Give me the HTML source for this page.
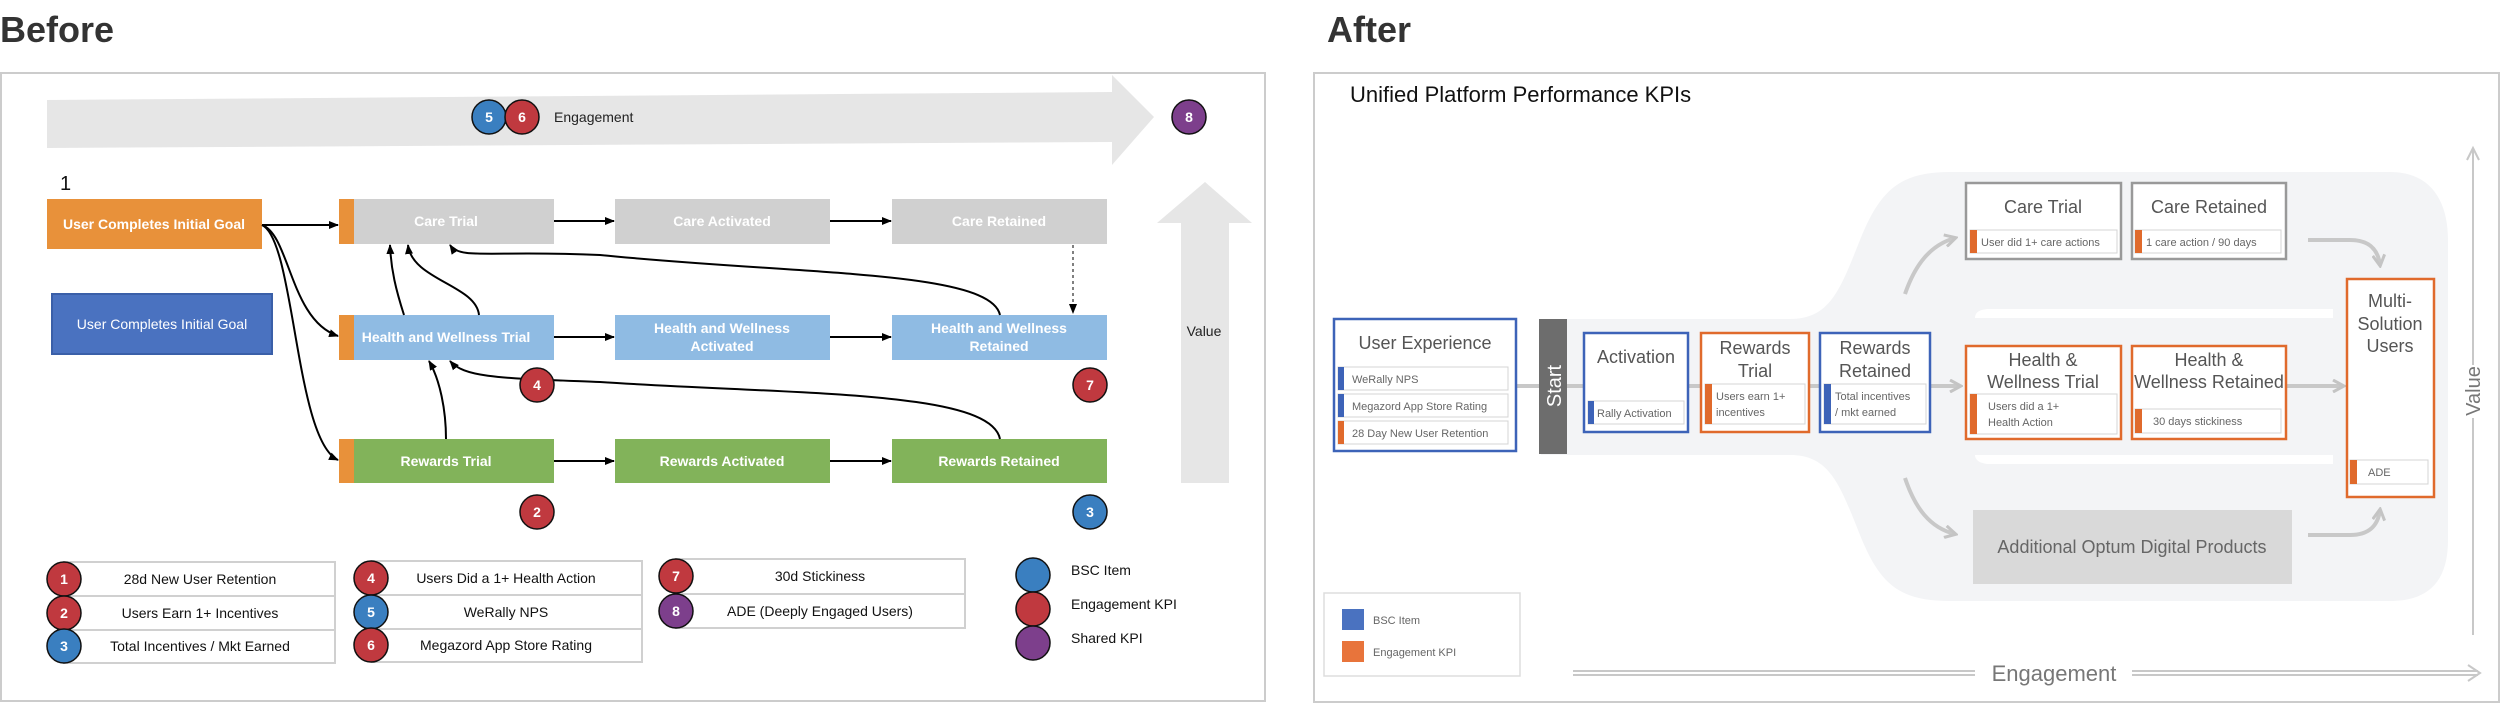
<!DOCTYPE html>
<html><head><meta charset="utf-8"><style>
html,body{margin:0;padding:0;background:#fff;}
svg{display:block;font-family:"Liberation Sans",sans-serif;}
</style></head><body>
<svg width="2500" height="703" viewBox="0 0 2500 703" xmlns="http://www.w3.org/2000/svg">
<defs>
<marker id="ab" markerWidth="10" markerHeight="10" refX="9" refY="5" orient="auto" markerUnits="userSpaceOnUse"><path d="M0,1 L10,5 L0,9 z" fill="#000"/></marker>
<marker id="ag" markerWidth="14" markerHeight="14" refX="11" refY="7" orient="auto" markerUnits="userSpaceOnUse"><path d="M1,1 L12,7 L1,13" fill="none" stroke="#c4c4c4" stroke-width="3"/></marker>
</defs>

<!-- ================= BEFORE ================= -->
<text x="0" y="42" font-size="36" font-weight="bold" fill="#333">Before</text>
<rect x="1" y="73" width="1264" height="628" fill="#fff" stroke="#ccc" stroke-width="2"/>

<!-- engagement arrow -->
<path d="M47,100 L1112,92 L1112,75 L1154,117 L1112,165 L1112,142 L47,148 z" fill="#e6e6e6"/>
<g stroke="#111" stroke-width="1.5" font-size="14" font-weight="bold" fill="#fff" text-anchor="middle">
<circle cx="489" cy="117" r="17" fill="#3a7fc0"/><text x="489" y="122" stroke="none">5</text>
<circle cx="522" cy="117" r="17" fill="#c0393f"/><text x="522" y="122" stroke="none">6</text>
<circle cx="1189" cy="117" r="17" fill="#7d3f8c"/><text x="1189" y="122" stroke="none">8</text>
</g>
<text x="554" y="122" font-size="14" fill="#222">Engagement</text>

<!-- value arrow -->
<path d="M1181,483 L1181,223 L1157,223 L1205,182 L1252,223 L1229,223 L1229,483 z" fill="#e6e6e6"/>
<text x="1204" y="336" font-size="14" fill="#222" text-anchor="middle">Value</text>

<text x="60" y="190" font-size="20" fill="#111">1</text>
<rect x="47" y="199" width="215" height="50" fill="#e8913a"/>
<text x="154" y="229" font-size="14" font-weight="bold" fill="#fff" text-anchor="middle">User Completes Initial Goal</text>
<rect x="52" y="294" width="220" height="60" fill="#4a72c0" stroke="#3a5fa8" stroke-width="2"/>
<text x="162" y="329" font-size="14" fill="#fff" text-anchor="middle">User Completes Initial Goal</text>

<!-- rows -->
<g font-size="14" font-weight="bold" fill="#fff" text-anchor="middle">
<rect x="339" y="199" width="215" height="45" fill="#d0d0d0"/><rect x="339" y="199" width="15" height="45" fill="#e8913a"/>
<text x="446" y="226">Care Trial</text>
<rect x="615" y="199" width="215" height="45" fill="#d0d0d0"/><text x="722" y="226">Care Activated</text>
<rect x="892" y="199" width="215" height="45" fill="#d0d0d0"/><text x="999" y="226">Care Retained</text>

<rect x="339" y="315" width="215" height="45" fill="#8fbbe3"/><rect x="339" y="315" width="15" height="45" fill="#e8913a"/>
<text x="446" y="342">Health and Wellness Trial</text>
<rect x="615" y="315" width="215" height="45" fill="#8fbbe3"/><text x="722" y="333">Health and Wellness</text><text x="722" y="351">Activated</text>
<rect x="892" y="315" width="215" height="45" fill="#8fbbe3"/><text x="999" y="333">Health and Wellness</text><text x="999" y="351">Retained</text>

<rect x="339" y="439" width="215" height="44" fill="#82b35a"/><rect x="339" y="439" width="15" height="44" fill="#e8913a"/>
<text x="446" y="466">Rewards Trial</text>
<rect x="615" y="439" width="215" height="44" fill="#82b35a"/><text x="722" y="466">Rewards Activated</text>
<rect x="892" y="439" width="215" height="44" fill="#82b35a"/><text x="999" y="466">Rewards Retained</text>
</g>

<g stroke="#000" stroke-width="2" fill="none" marker-end="url(#ab)">
<line x1="554" y1="221" x2="614" y2="221"/><line x1="830" y1="221" x2="891" y2="221"/>
<line x1="554" y1="337" x2="614" y2="337"/><line x1="830" y1="337" x2="891" y2="337"/>
<line x1="554" y1="461" x2="614" y2="461"/><line x1="830" y1="461" x2="891" y2="461"/>
<line x1="262" y1="225" x2="338" y2="225"/>
<path d="M262,225 C290,235 290,320 338,336"/>
<path d="M262,225 C295,240 295,440 338,460"/>
<path d="M404,315 C396,290 391,270 390,245"/>
<path d="M479,315 C476,285 412,280 408,245"/>
<path d="M1000,315 C990,270 800,275 600,255 C490,250 460,260 450,245"/>
<path d="M446,439 C446,410 440,380 429,361"/>
<path d="M1000,439 C990,390 800,395 600,382 C500,378 465,378 450,361"/>
</g>
<line x1="1073" y1="245" x2="1073" y2="313" stroke="#000" stroke-width="1" stroke-dasharray="3,3" marker-end="url(#ab)"/>

<g stroke="#111" stroke-width="1.5" font-size="14" font-weight="bold" fill="#fff" text-anchor="middle">
<circle cx="537" cy="385" r="17" fill="#c0393f"/><text x="537" y="390" stroke="none">4</text>
<circle cx="1090" cy="385" r="17" fill="#c0393f"/><text x="1090" y="390" stroke="none">7</text>
<circle cx="537" cy="512" r="17" fill="#c0393f"/><text x="537" y="517" stroke="none">2</text>
<circle cx="1090" cy="512" r="17" fill="#3a7fc0"/><text x="1090" y="517" stroke="none">3</text>
</g>

<!-- legend tables -->
<g fill="#fff" stroke="#d0d0d0" stroke-width="2">
<rect x="64" y="562" width="271" height="34"/><rect x="64" y="596" width="271" height="34"/><rect x="64" y="630" width="271" height="33"/>
<rect x="372" y="561" width="270" height="34"/><rect x="372" y="595" width="270" height="34"/><rect x="372" y="629" width="270" height="33"/>
<rect x="676" y="559" width="289" height="35"/><rect x="676" y="594" width="289" height="34"/>
</g>
<g stroke="#111" stroke-width="1.5" font-size="14" font-weight="bold" fill="#fff" text-anchor="middle">
<circle cx="64" cy="579" r="17" fill="#c0393f"/><text x="64" y="584" stroke="none">1</text>
<circle cx="64" cy="613" r="17" fill="#c0393f"/><text x="64" y="618" stroke="none">2</text>
<circle cx="64" cy="646" r="17" fill="#3a7fc0"/><text x="64" y="651" stroke="none">3</text>
<circle cx="371" cy="578" r="17" fill="#c0393f"/><text x="371" y="583" stroke="none">4</text>
<circle cx="371" cy="612" r="17" fill="#3a7fc0"/><text x="371" y="617" stroke="none">5</text>
<circle cx="371" cy="645" r="17" fill="#c0393f"/><text x="371" y="650" stroke="none">6</text>
<circle cx="676" cy="576" r="17" fill="#c0393f"/><text x="676" y="581" stroke="none">7</text>
<circle cx="676" cy="611" r="17" fill="#7d3f8c"/><text x="676" y="616" stroke="none">8</text>
<circle cx="1033" cy="575" r="17" fill="#3a7fc0"/>
<circle cx="1033" cy="609" r="17" fill="#c0393f"/>
<circle cx="1033" cy="643" r="17" fill="#7d3f8c"/>
</g>
<g font-size="14" fill="#111" text-anchor="middle">
<text x="200" y="584">28d New User Retention</text>
<text x="200" y="618">Users Earn 1+ Incentives</text>
<text x="200" y="651">Total Incentives / Mkt Earned</text>
<text x="506" y="583">Users Did a 1+ Health Action</text>
<text x="506" y="617">WeRally NPS</text>
<text x="506" y="650">Megazord App Store Rating</text>
<text x="820" y="581">30d Stickiness</text>
<text x="820" y="616">ADE (Deeply Engaged Users)</text>
</g>
<g font-size="14" fill="#111">
<text x="1071" y="575">BSC Item</text>
<text x="1071" y="609">Engagement KPI</text>
<text x="1071" y="643">Shared KPI</text>
</g>

<!-- ================= AFTER ================= -->
<text x="1327" y="42" font-size="36" font-weight="bold" fill="#333">After</text>
<rect x="1314" y="73" width="1185" height="629" fill="#fff" stroke="#ccc" stroke-width="2"/>
<text x="1350" y="102" font-size="22" fill="#111">Unified Platform Performance KPIs</text>

<!-- flow background -->
<path d="M1541,319 L1790,319 C1830,319 1840,290 1860,240 C1880,190 1900,172 1950,172 L2390,172 C2430,172 2448,200 2448,240 L2448,540 C2448,580 2430,601 2390,601 L1950,601 C1900,601 1880,585 1860,535 C1840,485 1830,455 1790,455 L1541,455 z" fill="#f3f4f6"/>
<path d="M1990,309 L2333,309 L2333,318 L1975,318 C1975,312 1980,309 1990,309 z" fill="#fff"/>
<path d="M1975,455 L2333,455 L2333,464 L1990,464 C1980,464 1975,460 1975,455 z" fill="#fff"/>

<!-- connectors -->
<g stroke="#c8c8c8" stroke-width="4" fill="none">
<line x1="1516" y1="386" x2="1539" y2="386"/>
<line x1="1567" y1="386" x2="1584" y2="386"/>
<line x1="1688" y1="386" x2="1701" y2="386"/>
<line x1="1809" y1="386" x2="1820" y2="386"/>
<line x1="1930" y1="386" x2="1960" y2="386" marker-end="url(#ag)"/>
<line x1="2287" y1="386" x2="2343" y2="386" marker-end="url(#ag)"/>
<path d="M1905,294 C1915,265 1930,245 1955,238" marker-end="url(#ag)"/>
<path d="M1905,478 C1915,508 1930,528 1955,534" marker-end="url(#ag)"/>
<path d="M2308,240 L2350,240 C2370,240 2378,250 2380,265" marker-end="url(#ag)"/>
<path d="M2308,535 L2350,535 C2370,535 2378,525 2380,510" marker-end="url(#ag)"/>
</g>

<!-- start bar -->
<rect x="1539" y="319" width="28" height="135" fill="#6d6d6d"/>
<text transform="translate(1561,386) rotate(-90)" font-size="20" fill="#fff" text-anchor="middle">Start</text>

<!-- boxes -->
<g fill="#fff" stroke-width="2.5">
<rect x="1334" y="319" width="182" height="132" stroke="#3d63b8"/>
<rect x="1584" y="333" width="104" height="99" stroke="#3d63b8"/>
<rect x="1701" y="333" width="108" height="99" stroke="#e06a2c"/>
<rect x="1820" y="333" width="110" height="99" stroke="#3d63b8"/>
<rect x="1966" y="183" width="155" height="76" stroke="#999"/>
<rect x="2132" y="183" width="154" height="76" stroke="#999"/>
<rect x="1966" y="346" width="155" height="93" stroke="#e06a2c"/>
<rect x="2132" y="346" width="154" height="93" stroke="#e06a2c"/>
<rect x="2347" y="279" width="87" height="218" stroke="#e06a2c"/>
</g>
<rect x="1973" y="510" width="319" height="74" fill="#d9d9d9"/>
<text x="2132" y="553" font-size="18" fill="#666" text-anchor="middle">Additional Optum Digital Products</text>

<!-- items -->
<g fill="#fff" stroke="#d4d4d4" stroke-width="1">
<rect x="1338" y="367" width="170" height="23"/><rect x="1338" y="394" width="170" height="23"/><rect x="1338" y="421" width="170" height="23"/>
<rect x="1588" y="401" width="96" height="23"/>
<rect x="1705" y="384" width="100" height="40"/>
<rect x="1824" y="384" width="102" height="40"/>
<rect x="1970" y="230" width="147" height="23"/>
<rect x="2135" y="230" width="146" height="23"/>
<rect x="1970" y="394" width="147" height="40"/>
<rect x="2135" y="409" width="146" height="24"/>
<rect x="2350" y="460" width="78" height="24"/>
</g>
<g>
<rect x="1338" y="367" width="6" height="23" fill="#3d63b8"/><rect x="1338" y="394" width="6" height="23" fill="#3d63b8"/><rect x="1338" y="421" width="6" height="23" fill="#e06a2c"/>
<rect x="1588" y="401" width="6" height="23" fill="#3d63b8"/>
<rect x="1705" y="384" width="7" height="40" fill="#e06a2c"/>
<rect x="1824" y="384" width="7" height="40" fill="#3d63b8"/>
<rect x="1970" y="230" width="7" height="23" fill="#e06a2c"/>
<rect x="2135" y="230" width="7" height="23" fill="#e06a2c"/>
<rect x="1970" y="394" width="7" height="40" fill="#e06a2c"/>
<rect x="2135" y="409" width="7" height="24" fill="#e06a2c"/>
<rect x="2350" y="460" width="7" height="24" fill="#e06a2c"/>
</g>
<g font-size="11" fill="#666">
<text x="1352" y="383">WeRally NPS</text>
<text x="1352" y="410">Megazord App Store Rating</text>
<text x="1352" y="437">28 Day New User Retention</text>
<text x="1597" y="417">Rally Activation</text>
<text x="1716" y="400">Users earn 1+</text><text x="1716" y="416">incentives</text>
<text x="1835" y="400">Total incentives</text><text x="1835" y="416">/ mkt earned</text>
<text x="1981" y="246">User did 1+ care actions</text>
<text x="2146" y="246">1 care action / 90 days</text>
<text x="1988" y="410">Users did a 1+</text><text x="1988" y="426">Health Action</text>
<text x="2153" y="425">30 days stickiness</text>
<text x="2368" y="476">ADE</text>
</g>
<g font-size="18" fill="#555" text-anchor="middle">
<text x="1425" y="349">User Experience</text>
<text x="1636" y="363">Activation</text>
<text x="1755" y="354">Rewards</text><text x="1755" y="377">Trial</text>
<text x="1875" y="354">Rewards</text><text x="1875" y="377">Retained</text>
<text x="2043" y="213">Care Trial</text>
<text x="2209" y="213">Care Retained</text>
<text x="2043" y="366">Health &amp;</text><text x="2043" y="388">Wellness Trial</text>
<text x="2209" y="366">Health &amp;</text><text x="2209" y="388">Wellness Retained</text>
<text x="2390" y="307">Multi-</text><text x="2390" y="330">Solution</text><text x="2390" y="352">Users</text>
</g>

<!-- axes -->
<g stroke="#c8c8c8" stroke-width="2" fill="none">
<line x1="2473" y1="150" x2="2473" y2="365"/>
<line x1="2473" y1="418" x2="2473" y2="635"/>
<path d="M2467,160 L2473,148 L2479,160"/>
<line x1="1573" y1="671" x2="1975" y2="671"/><line x1="1573" y1="675" x2="1975" y2="675"/>
<line x1="2132" y1="671" x2="2478" y2="671"/><line x1="2132" y1="675" x2="2478" y2="675"/>
<path d="M2468,665 L2480,673 L2468,681"/>
</g>
<text transform="translate(2480,391) rotate(-90)" font-size="20" fill="#777" text-anchor="middle">Value</text>
<text x="2054" y="681" font-size="22" fill="#777" text-anchor="middle">Engagement</text>

<!-- legend -->
<rect x="1324" y="593" width="196" height="83" fill="#fff" stroke="#ddd" stroke-width="1.5"/>
<rect x="1342" y="609" width="22" height="21" fill="#4a72c0"/>
<rect x="1342" y="641" width="22" height="21" fill="#e8743b"/>
<text x="1373" y="624" font-size="11" fill="#666">BSC Item</text>
<text x="1373" y="656" font-size="11" fill="#666">Engagement KPI</text>
</svg>
</body></html>
